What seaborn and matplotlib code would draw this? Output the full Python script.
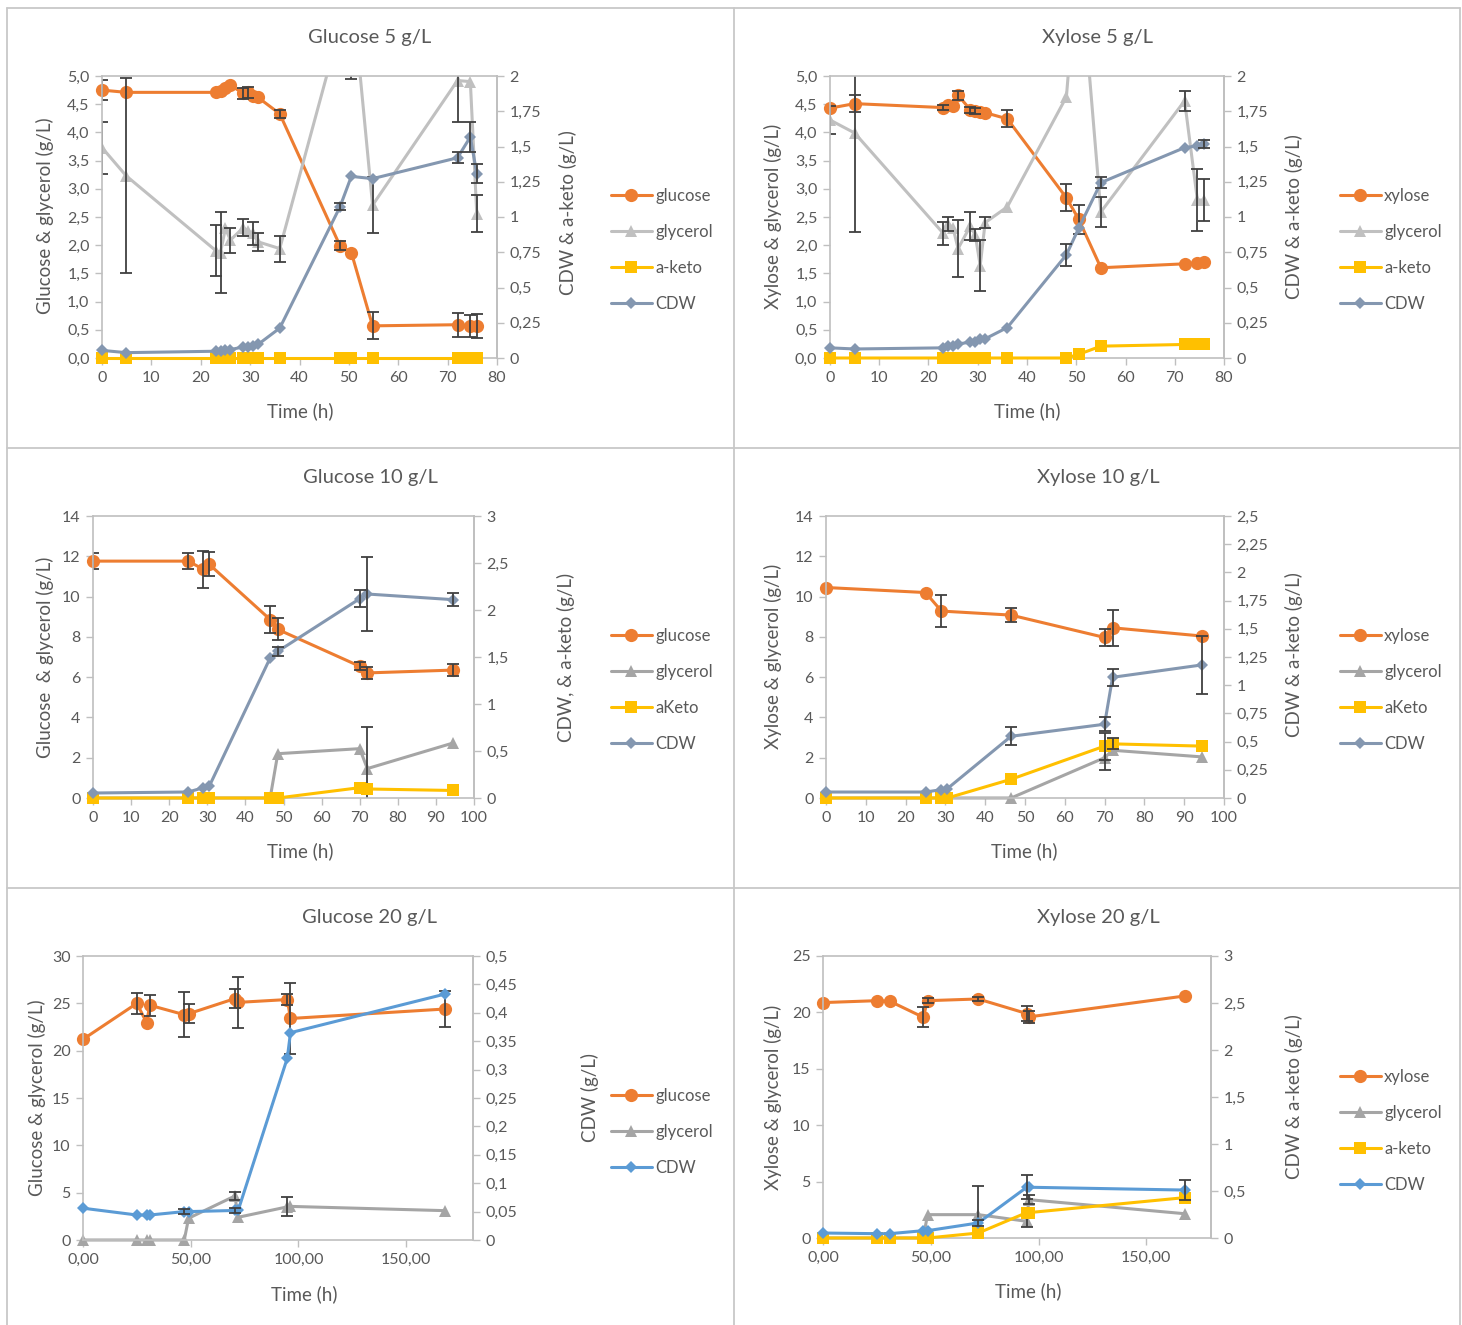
import matplotlib
matplotlib.use("Agg")
import matplotlib.pyplot as plt
from matplotlib.ticker import FuncFormatter
from matplotlib.lines import Line2D
import numpy as np
import seaborn as sns

# ---------------- data ----------------
# Glucose 5 g/L  (glucose, glycerol on left axis; CDW, a-keto on right axis)
g5_time = [0, 4.9, 23.1, 24, 25, 26, 28.6, 29.6, 30.5, 31.6, 36, 48.2, 50.5, 54.8, 72, 74.6, 75.9]
g5_glucose = [4.75, 4.71, 4.71, 4.73, 4.78, 4.84, 4.69, 4.71, 4.64, 4.62, 4.33, 1.99, 1.87, 0.57, 0.59, 0.57, 0.57]
g5_glucose_err = [0.18, 0, 0, 0, 0, 0, 0.1, 0.1, 0, 0, 0.07, 0.08, 0, 0.24, 0.21, 0.19, 0.21]
g5_glycerol = [3.73, 3.23, 1.90, 1.87, 2.30, 2.09, 2.31, 2.25, 2.21, 2.06, 1.94, 5.87, 6.65, 2.71, 4.92, 4.90, 2.56]
g5_glycerol_err = [0.46, 1.73, 0.45, 0.71, 0, 0.22, 0.15, 0, 0.2, 0.16, 0.23, 0, 1.7, 0.5, 0.73, 0, 0.33]
g5_aketo = [0, 0, 0, 0, 0, 0, 0, 0, 0, 0, 0, 0, 0, 0, 0, 0, 0]
g5_cdw = [0.054, 0.038, 0.048, 0.052, 0.056, 0.060, 0.078, 0.080, 0.084, 0.096, 0.212, 1.072, 1.288, 1.272, 1.420, 1.568, 1.308]
g5_cdw_err = [0, 0, 0, 0, 0, 0, 0, 0, 0, 0, 0, 0.024, 0, 0, 0.04, 0.108, 0.068]

# Xylose 5 g/L
x5_time = [0, 5, 23, 24, 25, 26, 28.5, 29.5, 30.5, 31.5, 36, 48, 50.5, 55, 72, 74.6, 76]
x5_xylose = [4.43, 4.51, 4.44, 4.49, 4.46, 4.66, 4.40, 4.38, 4.37, 4.35, 4.24, 2.84, 2.46, 1.60, 1.67, 1.69, 1.71]
x5_xylose_err = [0, 0.15, 0.05, 0, 0, 0.08, 0.05, 0.06, 0, 0, 0.15, 0.24, 0.26, 0, 0, 0, 0]
x5_glycerol = [4.22, 3.99, 2.21, 2.38, 2.30, 1.94, 2.34, 2.18, 1.64, 2.40, 2.68, 4.63, 7.30, 2.59, 4.56, 2.80, 2.80]
x5_glycerol_err = [0.25, 1.76, 0.2, 0.12, 0, 0.5, 0.25, 0.1, 0.45, 0.1, 0, 0, 0, 0.27, 0.18, 0.55, 0.37]
x5_aketo = [0, 0, 0, 0, 0, 0, 0, 0, 0, 0, 0, 0, 0.026, 0.084, 0.096, 0.096, 0.096]
x5_cdw = [0.072, 0.064, 0.072, 0.084, 0.088, 0.100, 0.112, 0.116, 0.132, 0.136, 0.216, 0.732, 0.92, 1.244, 1.492, 1.504, 1.516]
x5_cdw_err = [0, 0, 0, 0, 0, 0, 0, 0, 0, 0, 0, 0.08, 0, 0.04, 0, 0, 0.028]

# Glucose 10 g/L
g10_time = [0, 25, 29, 30.5, 46.5, 48.5, 70, 72, 94.5]
g10_glucose = [11.76, 11.76, 11.35, 11.6, 8.86, 8.37, 6.54, 6.21, 6.35]
g10_glucose_err = [0.4, 0.4, 0.9, 0.6, 0.66, 0.55, 0.2, 0.3, 0.3]
g10_glycerol = [0, 0, 0, 0, 0, 2.2, 2.45, 1.46, 2.73]
g10_glycerol_err = [0, 0, 0, 0, 0, 0, 0, 2.05, 0]
g10_aketo = [0, 0, 0, 0, 0, 0, 0.11, 0.096, 0.08]
g10_cdw = [0.053, 0.064, 0.11, 0.124, 1.49, 1.56, 2.12, 2.17, 2.11]
g10_cdw_err = [0, 0, 0, 0, 0, 0.05, 0.09, 0.39, 0.07]

# Xylose 10 g/L
x10_time = [0, 25, 29, 30.5, 46.5, 70, 72, 94.5]
x10_xylose_time = [0, 25, 29, 46.5, 70, 72, 94.5]
x10_xylose = [10.45, 10.2, 9.28, 9.08, 7.97, 8.45, 8.04]
x10_xylose_err = [0, 0, 0.8, 0.35, 0.4, 0.9, 0]
x10_glycerol = [0, 0, 0, 0, 0, 2.0, 2.37, 2.04]
x10_glycerol_err = [0, 0, 0, 0, 0, 0.6, 0, 0]
x10_aketo = [0, 0, 0, 0, 0.166, 0.46, 0.48, 0.46]
x10_aketo_err = [0, 0, 0, 0, 0, 0.12, 0.05, 0]
x10_cdw = [0.053, 0.053, 0.074, 0.083, 0.547, 0.654, 1.07, 1.18]
x10_cdw_err = [0, 0, 0, 0, 0.08, 0.063, 0.075, 0.26]

# Glucose 20 g/L
g20_time = [0, 25, 29.5, 31, 47, 49, 70.5, 72, 94.8, 96.3, 168]
g20_glucose = [21.2, 25.0, 22.96, 24.8, 23.8, 23.9, 25.5, 25.1, 25.4, 23.4, 24.4]
g20_glucose_err = [0, 1.1, 0, 1.1, 2.4, 1.0, 1.0, 2.7, 0.6, 3.7, 1.9]
g20_glycerol = [0, 0, 0, 0, 0, 2.3, 4.65, 2.4, 3.5, 3.55, 3.1]
g20_glycerol_err = [0, 0, 0, 0, 0, 0, 0.4, 0, 1.0, 0, 0]
g20_cdw = [0.056, 0.044, 0.044, 0.044, 0.05, 0.05, 0.052, 0.052, 0.32, 0.365, 0.433]
g20_cdw_err = [0, 0, 0, 0, 0.005, 0, 0.005, 0, 0, 0, 0]

# Xylose 20 g/L
x20_time = [0, 25, 31, 46.5, 48.5, 72, 94.5, 95.5, 168]
x20_xylose = [20.87, 21.04, 20.99, 19.57, 21.04, 21.19, 19.9, 19.6, 21.46]
x20_xylose_err = [0, 0, 0, 0.9, 0.2, 0.2, 0.7, 0.5, 0]
x20_glycerol = [0, 0, 0, 0, 2.07, 2.07, 1.48, 3.4, 2.15]
x20_glycerol_err = [0, 0, 0, 0, 0, 2.5, 0.5, 0.4, 0]
x20_aketo = [0, 0, 0, 0, 0, 0.053, 0.27, 0.27, 0.43]
x20_cdw = [0.053, 0.046, 0.046, 0.078, 0.078, 0.16, 0.54, 0.54, 0.51]
x20_cdw_err = [0, 0, 0, 0, 0, 0.03, 0.13, 0, 0.11]

# ---------------- style ----------------
sns.set_theme(style="white")
plt.rcParams['font.family'] = ['Lato', 'DejaVu Sans']

W, H = 1462, 1325
fig = plt.figure(figsize=(W / 100, H / 100), dpi=100)

TXT = '#595959'
AXC = '#BFBFBF'
ORANGE = '#ED7D31'
GLY_LIGHT = '#C0C0C0'
GLY = '#A5A5A5'
YELLOW = '#FFC000'
SLATE = '#8497B0'
BLUE = '#5B9BD5'
ERR = '#404040'
MARK = {'o': 9.5, '^': 9, 's': 8.5, 'D': 6.5}
TICK_FS, LAB_FS, LEG_FS, TITLE_FS = 11.5, 13.5, 12, 14.5


def fx(px):
    return px / W


def fy(py):
    return 1 - py / H


def comma(fmt):
    return FuncFormatter(lambda v, pos: (fmt % v).replace('.', ','))


def series(ax, t, y, err, color, marker, clip=False):
    sns.lineplot(x=t, y=y, ax=ax, color=color, marker=marker, markersize=MARK[marker],
                 markeredgewidth=0, linewidth=2.2, estimator=None, errorbar=None,
                 sort=False, clip_on=clip)
    line = ax.lines[-1]
    if err is not None:
        t, y, err = map(np.asarray, (t, y, err))
        m = err > 0
        if m.any():
            ax.errorbar(t[m], y[m], yerr=err[m], fmt='none', ecolor=ERR,
                        elinewidth=1.3, capsize=4, capthick=1.3)
    return line


def make_axes(box):
    l, t, r, b = box
    ax = fig.add_axes([fx(l), fy(b), (r - l) / W, (b - t) / H])
    ax2 = ax.twinx()
    return ax, ax2


def finish(ax, ax2, xlim, xticks, xfmt, ylim, yticks, yfmt, y2lim, y2ticks, y2fmt,
           handles, names, leg_xy, title, title_xy, labels):
    ax.set_xlim(*xlim)
    ax.set_xticks(xticks)
    ax.xaxis.set_major_formatter(comma(xfmt))
    ax.set_ylim(*ylim)
    ax.set_yticks(yticks)
    ax.yaxis.set_major_formatter(comma(yfmt))
    ax2.set_ylim(*y2lim)
    ax2.set_yticks(y2ticks)
    ax2.yaxis.set_major_formatter(comma(y2fmt))
    for s in ax.spines.values():
        s.set_color(AXC)
        s.set_linewidth(1.2)
        s.set_visible(True)
    for k, s in ax2.spines.items():
        s.set_visible(k == 'right')
        s.set_color(AXC)
        s.set_linewidth(1.2)
    ax.tick_params(axis='both', direction='out', length=5, width=1, color=AXC,
                   labelcolor=TXT, labelsize=TICK_FS, left=True, bottom=True,
                   right=False, top=False, pad=4)
    ax2.tick_params(axis='y', direction='out', length=5, width=1, color=AXC,
                    labelcolor=TXT, labelsize=TICK_FS, right=True, pad=4)
    ax.set_xlabel('')
    ax.set_ylabel('')
    ax2.set_ylabel('')
    ax.grid(False)
    ax2.grid(False)
    for a in (ax, ax2):
        if a.get_legend() is not None:
            a.get_legend().remove()
    ax2.legend(handles, names, loc='center left', bbox_to_anchor=(fx(leg_xy[0]), fy(leg_xy[1])),
               bbox_transform=fig.transFigure, frameon=False, fontsize=LEG_FS,
               handlelength=2.45, handletextpad=0.2, labelspacing=1.2,
               borderpad=0, borderaxespad=0, labelcolor=TXT)
    fig.text(fx(title_xy[0]), fy(title_xy[1]), title, ha='center', va='center',
             fontsize=TITLE_FS, color=TXT)
    (xl, xlxy), (yl, ylxy), (y2l, y2lxy) = labels
    fig.text(fx(xlxy[0]), fy(xlxy[1]), xl, ha='center', va='center', fontsize=LAB_FS, color=TXT)
    fig.text(fx(ylxy[0]), fy(ylxy[1]), yl, ha='center', va='center', fontsize=LAB_FS,
             color=TXT, rotation=90)
    fig.text(fx(y2lxy[0]), fy(y2lxy[1]), y2l, ha='center', va='center', fontsize=LAB_FS,
             color=TXT, rotation=90)


# ---------------- Glucose 5 g/L ----------------
ax, ax2 = make_axes((102, 76, 497, 358))
h = [series(ax, g5_time, g5_glucose, g5_glucose_err, ORANGE, 'o'),
     series(ax, g5_time, g5_glycerol, g5_glycerol_err, GLY_LIGHT, '^', clip=True),
     series(ax2, g5_time, g5_aketo, None, YELLOW, 's'),
     series(ax2, g5_time, g5_cdw, g5_cdw_err, SLATE, 'D')]
finish(ax, ax2, (0, 80), np.arange(0, 81, 10), '%g', (0, 5), np.arange(0, 5.01, 0.5), '%.1f',
       (0, 2), np.arange(0, 2.01, 0.25), '%g', h, ['glucose', 'glycerol', 'a-keto', 'CDW'],
       (611, 250), 'Glucose 5 g/L', (370, 38),
       [('Time (h)', (300, 411)), ('Glucose & glycerol (g/L)', (45, 216)),
        ('CDW & a-keto (g/L)', (568, 213))])

# ---------------- Xylose 5 g/L ----------------
ax, ax2 = make_axes((830, 76, 1224, 358))
h = [series(ax, x5_time, x5_xylose, x5_xylose_err, ORANGE, 'o'),
     series(ax, x5_time, x5_glycerol, x5_glycerol_err, GLY_LIGHT, '^', clip=True),
     series(ax2, x5_time, x5_aketo, None, YELLOW, 's'),
     series(ax2, x5_time, x5_cdw, x5_cdw_err, SLATE, 'D')]
finish(ax, ax2, (0, 80), np.arange(0, 81, 10), '%g', (0, 5), np.arange(0, 5.01, 0.5), '%.1f',
       (0, 2), np.arange(0, 2.01, 0.25), '%g', h, ['xylose', 'glycerol', 'a-keto', 'CDW'],
       (1340, 250), 'Xylose 5 g/L', (1098, 38),
       [('Time (h)', (1027, 411)), ('Xylose & glycerol (g/L)', (773, 216)),
        ('CDW & a-keto (g/L)', (1294, 217))])

# ---------------- Glucose 10 g/L ----------------
ax, ax2 = make_axes((93, 516, 474, 798))
h = [series(ax, g10_time, g10_glucose, g10_glucose_err, ORANGE, 'o'),
     series(ax, g10_time, g10_glycerol, g10_glycerol_err, GLY, '^'),
     series(ax2, g10_time, g10_aketo, None, YELLOW, 's'),
     series(ax2, g10_time, g10_cdw, g10_cdw_err, SLATE, 'D')]
finish(ax, ax2, (0, 100), np.arange(0, 101, 10), '%g', (0, 14), np.arange(0, 15, 2), '%g',
       (0, 3), np.arange(0, 3.01, 0.5), '%g', h, ['glucose', 'glycerol', 'aKeto', 'CDW'],
       (611, 690), 'Glucose 10 g/L', (370, 478),
       [('Time (h)', (300, 851)), ('Glucose  & glycerol (g/L)', (45, 657)),
        ('CDW, & a-keto (g/L)', (566, 657))])

# ---------------- Xylose 10 g/L ----------------
ax, ax2 = make_axes((826, 516, 1224, 798))
h = [series(ax, x10_xylose_time, x10_xylose, x10_xylose_err, ORANGE, 'o'),
     series(ax, x10_time, x10_glycerol, x10_glycerol_err, GLY, '^'),
     series(ax2, x10_time, x10_aketo, x10_aketo_err, YELLOW, 's'),
     series(ax2, x10_time, x10_cdw, x10_cdw_err, SLATE, 'D')]
finish(ax, ax2, (0, 100), np.arange(0, 101, 10), '%g', (0, 14), np.arange(0, 15, 2), '%g',
       (0, 2.5), np.arange(0, 2.51, 0.25), '%g', h, ['xylose', 'glycerol', 'aKeto', 'CDW'],
       (1340, 690), 'Xylose 10 g/L', (1098, 478),
       [('Time (h)', (1024, 851)), ('Xylose & glycerol (g/L)', (773, 656)),
        ('CDW & a-keto (g/L)', (1294, 655))])

# ---------------- Glucose 20 g/L ----------------
ax, ax2 = make_axes((83, 956, 473, 1240))
h = [series(ax, g20_time, g20_glucose, g20_glucose_err, ORANGE, 'o'),
     series(ax, g20_time, g20_glycerol, g20_glycerol_err, GLY, '^'),
     series(ax2, g20_time, g20_cdw, g20_cdw_err, BLUE, 'D')]
finish(ax, ax2, (0, 181), [0, 50, 100, 150], '%.2f', (0, 30), np.arange(0, 31, 5), '%g',
       (0, 0.5), np.arange(0, 0.501, 0.05), '%g', h, ['glucose', 'glycerol', 'CDW'],
       (611, 1132), 'Glucose 20 g/L', (370, 918),
       [('Time (h)', (304, 1294)), ('Glucose & glycerol (g/L)', (37, 1098)),
        ('CDW (g/L)', (590, 1098))])

# ---------------- Xylose 20 g/L ----------------
ax, ax2 = make_axes((823, 956, 1211, 1238))
h = [series(ax, x20_time, x20_xylose, x20_xylose_err, ORANGE, 'o'),
     series(ax, x20_time, x20_glycerol, x20_glycerol_err, GLY, '^'),
     series(ax2, x20_time, x20_aketo, None, YELLOW, 's'),
     series(ax2, x20_time, x20_cdw, x20_cdw_err, BLUE, 'D')]
finish(ax, ax2, (0, 180), [0, 50, 100, 150], '%.2f', (0, 25), np.arange(0, 26, 5), '%g',
       (0, 3), np.arange(0, 3.01, 0.5), '%g', h, ['xylose', 'glycerol', 'a-keto', 'CDW'],
       (1340, 1131), 'Xylose 20 g/L', (1098, 918),
       [('Time (h)', (1028, 1291)), ('Xylose & glycerol (g/L)', (773, 1097)),
        ('CDW & a-keto (g/L)', (1294, 1097))])

# ---------------- panel borders ----------------
for x in (7, 734, 1460):
    fig.add_artist(Line2D([fx(x), fx(x)], [fy(8), fy(1325)], color='#C8C8C8', lw=1.3))
for y in (8, 448, 888):
    fig.add_artist(Line2D([fx(7), fx(1460)], [fy(y), fy(y)], color='#C8C8C8', lw=1.3))

fig.savefig('out.png', dpi=100, facecolor='white')
